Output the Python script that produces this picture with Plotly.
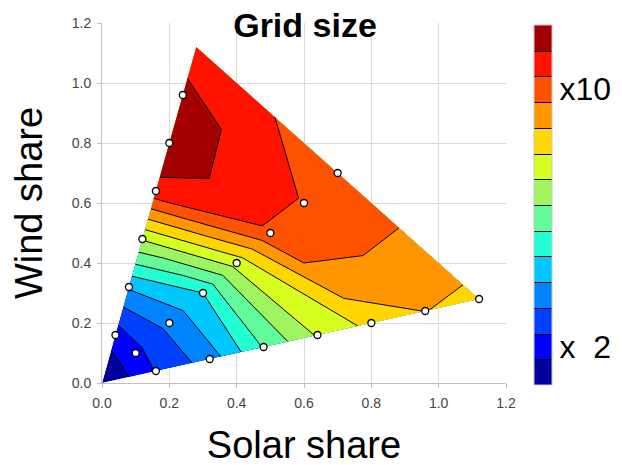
import plotly.graph_objects as go

# ---- data: three rays of model runs (solar share, wind share) and grid-size level ----
solar_L = [0.00, 0.04, 0.08, 0.12, 0.16, 0.20, 0.24, 0.28]
wind_L = [0.00, 0.16, 0.32, 0.48, 0.64, 0.80, 0.96, 1.12]
solar_D = [0.00, 0.10, 0.20, 0.30, 0.40, 0.50, 0.60, 0.70]
wind_D = [0.00, 0.10, 0.20, 0.30, 0.40, 0.50, 0.60, 0.70]
solar_B = [0.00, 0.16, 0.32, 0.48, 0.64, 0.80, 0.96, 1.12]
wind_B = [0.00, 0.04, 0.08, 0.12, 0.16, 0.20, 0.24, 0.28]

grid_L = [0.0, 1.47, 4.10, 8.10, 12.70, 13.75, 13.50, 12.05]
grid_D = [0.0, 1.70, 3.30, 5.00, 8.40, 11.85, 11.93, 11.96]
grid_B = [0.0, 2.05, 3.46, 6.10, 8.10, 9.30, 10.02, 9.75]

ray_param = [0, 1, 2]
step_param = [0, 1, 2, 3, 4, 5, 6, 7]

cbar_tickvals = [1.5, 11.5]
cbar_ticktext = ["x\u00a0\u00a02", "x10"]

band_colors = ["#00009c", "#0000ff", "#0040ff", "#0084ff", "#00c8ff", "#22ffd2",
               "#62fa9a", "#9ef55e", "#d6ff20", "#ffd600", "#ff9600", "#ff5200",
               "#ff1200", "#a40000"]

FONT = "Liberation Sans, Arial, sans-serif"

xs = [[solar_L[j], solar_D[j], solar_B[j]] for j in range(len(step_param))]
ys = [[wind_L[j], wind_D[j], wind_B[j]] for j in range(len(step_param))]
zs = [[grid_L[j], grid_D[j], grid_B[j]] for j in range(len(step_param))]

n = len(band_colors)
cscale = []
for i, c in enumerate(band_colors):
    cscale.append([i / n, c])
    cscale.append([(i + 1) / n, c])

fig = go.Figure()
axis_hidden = dict(smoothing=0, showgrid=False, showline=False, showticklabels="none",
                   minorgridcount=0, startline=False, endline=False)
fig.add_trace(go.Carpet(a=ray_param, b=step_param, x=xs, y=ys, carpet="c1",
                        aaxis=axis_hidden, baxis=axis_hidden))
fig.add_trace(go.Contourcarpet(
    a=ray_param, b=step_param, z=zs, carpet="c1",
    autocontour=False, zmin=0, zmax=n,
    contours=dict(start=1, end=n - 1, size=1, coloring="fill", showlines=True),
    line=dict(color="black", width=1, smoothing=0),
    colorscale=cscale,
    colorbar=dict(x=1.069, xanchor="left", xpad=0, thickness=18,
                  y=-2 / 360, yanchor="bottom", ypad=0, len=360, lenmode="pixels",
                  outlinewidth=1, outlinecolor="#c8c8c8",
                  tickmode="array", tickvals=cbar_tickvals, ticktext=cbar_ticktext,
                  ticks="", tickfont=dict(size=32, color="black", family=FONT)),
))

mx = solar_L[1:7] + solar_D[1:] + solar_B[1:]
my = wind_L[1:7] + wind_D[1:] + wind_B[1:]
fig.add_trace(go.Scatter(x=mx, y=my, mode="markers", showlegend=False,
                         marker=dict(size=7, color="white",
                                     line=dict(color="black", width=1.3))))

axis_common = dict(range=[0, 1.2], dtick=0.2, tickformat=".1f", showgrid=True,
                   gridcolor="#d9d9d9", gridwidth=1, zeroline=False, showline=True,
                   linecolor="#c0c0c0", linewidth=1, ticks="outside", ticklen=4,
                   tickcolor="#c0c0c0", automargin=False, ticklabelstandoff=3,
                   tickfont=dict(size=14, color="#444", family=FONT))

fig.update_layout(
    width=622, height=465,
    margin=dict(l=94, r=124, t=15, b=90, autoexpand=False),
    paper_bgcolor="white", plot_bgcolor="white",
    showlegend=False,
    title=dict(text="<b>Grid size</b>", x=297 / 622, xanchor="center",
               y=1 - 17.5 / 465, yanchor="middle",
               font=dict(size=34, color="black", family=FONT)),
    xaxis=dict(**axis_common, title=dict(text="Solar share", standoff=21,
                                         font=dict(size=38, color="black", family=FONT))),
    yaxis=dict(**axis_common, title=dict(text="Wind share", standoff=18,
                                         font=dict(size=38, color="black", family=FONT))),
)

fig.write_html("out.html")
